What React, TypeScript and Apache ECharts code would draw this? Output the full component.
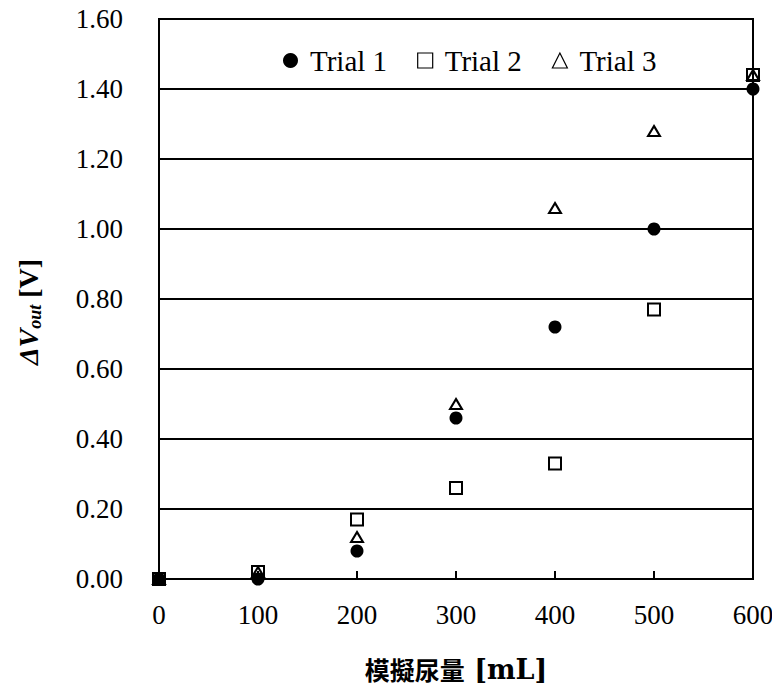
import React, { useEffect, useRef } from "react";
import * as echarts from "echarts";

const volumes = [0, 100, 200, 300, 400, 500, 600];
const trial1 = [0.0, 0.0, 0.08, 0.46, 0.72, 1.0, 1.4];
const trial2 = [0.0, 0.02, 0.17, 0.26, 0.33, 0.77, 1.44];
const trial3 = [0.0, 0.02, 0.12, 0.5, 1.06, 1.28, 1.44];
const seriesNames = ["Trial 1", "Trial 2", "Trial 3"];

const SERIF = "Liberation Serif";

export default function App() {
  const ref = useRef<HTMLDivElement>(null);
  useEffect(() => {
    if (!ref.current) return;
    const chart = echarts.init(ref.current, undefined, { renderer: "svg" });
    const pts = (arr: number[]) => volumes.map((v, i) => [v, arr[i]]);
    chart.setOption({
      animation: false,
      backgroundColor: "#fff",
      grid: {
        left: 159,
        right: 27,
        top: 19,
        bottom: 114,
        show: true,
        borderColor: "#000",
        borderWidth: 2,
      },
      legend: {
        top: 46,
        left: 283,
        padding: 0,
        itemGap: 30,
        itemWidth: 15,
        itemHeight: 15,
        textStyle: { fontFamily: SERIF, fontSize: 29, color: "#000", padding: [0, 0, 0, 7] },
        data: [
          { name: seriesNames[0], icon: "circle", itemStyle: { color: "#000", borderWidth: 0, opacity: 1 } },
          { name: seriesNames[1], icon: "rect", itemStyle: { color: "#fff", borderColor: "#000", borderWidth: 1.2, opacity: 1 } },
          { name: seriesNames[2], icon: "triangle", itemStyle: { color: "#fff", borderColor: "#000", borderWidth: 1.2, opacity: 1 } },
        ],
      },
      xAxis: {
        type: "value",
        min: 0,
        max: 600,
        interval: 100,
        name: "{j|模擬尿量}{e| [mL]}",
        nameLocation: "middle",
        nameGap: 75,
        nameTextStyle: {
          rich: {
            j: { fontFamily: "Noto Sans CJK JP", fontWeight: "bold", fontSize: 25, color: "#000", lineHeight: 30 },
            e: { fontFamily: "DejaVu Serif", fontWeight: "bold", fontSize: 27, color: "#000", lineHeight: 30 },
          },
        },
        axisLine: { show: true, lineStyle: { color: "#000", width: 2 } },
        axisTick: { show: true, inside: true, length: 8, lineStyle: { color: "#000", width: 2 } },
        axisLabel: { fontFamily: SERIF, fontSize: 27, color: "#000", margin: 22 },
        splitLine: { show: false },
      },
      yAxis: {
        type: "value",
        min: 0,
        max: 1.6,
        interval: 0.2,
        axisLine: { show: true, lineStyle: { color: "#000", width: 2 } },
        axisTick: { show: false },
        axisLabel: {
          fontFamily: SERIF,
          fontSize: 27,
          color: "#000",
          margin: 36,
          formatter: (v: number) => v.toFixed(2),
        },
        splitLine: { show: true, lineStyle: { color: "#000", width: 2 } },
      },
      graphic: [
        {
          type: "text",
          x: 28,
          y: 312,
          rotation: Math.PI / 2,
          style: {
            text: "{a|ΔV}{b|out}{c| [V]}",
            align: "center",
            verticalAlign: "middle",
            rich: {
              a: { fontFamily: SERIF, fontStyle: "italic", fontWeight: "bold", fontSize: 28, fill: "#000", lineHeight: 30 },
              b: { fontFamily: SERIF, fontStyle: "italic", fontWeight: "bold", fontSize: 18, fill: "#000", padding: [14, 0, 0, 0] },
              c: { fontFamily: SERIF, fontWeight: "bold", fontSize: 28, fill: "#000", lineHeight: 30 },
            },
          },
        },
      ],
      series: [
        {
          name: seriesNames[0],
          type: "scatter",
          clip: false,
          symbol: "circle",
          symbolSize: 13,
          itemStyle: { color: "#000", opacity: 1 },
          data: pts(trial1),
        },
        {
          name: seriesNames[1],
          type: "scatter",
          clip: false,
          symbol: "rect",
          symbolSize: 12,
          itemStyle: { color: "rgba(255,255,255,0)", borderColor: "#000", borderWidth: 2, opacity: 1 },
          data: pts(trial2),
        },
        {
          name: seriesNames[2],
          type: "scatter",
          clip: false,
          symbol: "triangle",
          symbolSize: [12, 10],
          itemStyle: { color: "rgba(255,255,255,0)", borderColor: "#000", borderWidth: 2, opacity: 1 },
          data: pts(trial3),
        },
      ],
    });
    return () => chart.dispose();
  }, []);
  return <div ref={ref} style={{ width: 780, height: 693, margin: -8 }} />;
}
